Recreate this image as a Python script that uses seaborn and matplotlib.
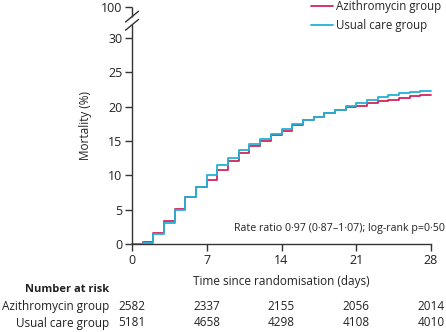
import matplotlib
matplotlib.use("Agg")
import matplotlib.pyplot as plt
import numpy as np
import pandas as pd
import seaborn as sns
from matplotlib.transforms import blended_transform_factory

# Cumulative mortality (%) by day since randomisation
days = list(range(0, 29))
azithro = [0, 0.3, 1.6, 3.4, 5.1, 6.8, 8.3, 9.3, 10.8, 12.1, 13.2, 14.3, 15.0,
           15.8, 16.4, 17.3, 18.05, 18.5, 19.1, 19.45, 19.9, 20.15, 20.5, 20.75,
           21.0, 21.3, 21.55, 21.75, 21.75]
usual = [0, 0.15, 1.5, 3.1, 4.95, 6.8, 8.3, 10.0, 11.5, 12.45, 13.65, 14.6, 15.3,
         16.0, 16.8, 17.4, 18.05, 18.5, 19.1, 19.55, 20.15, 20.5, 20.95, 21.35,
         21.7, 21.95, 22.1, 22.3, 22.3]

groups = ["Azithromycin group", "Usual care group"]
colors = ["#d4245a", "#22b2d6"]

# Number at risk
risk_days = [0, 7, 14, 21, 28]
azithro_n = [2582, 2337, 2155, 2056, 2014]
usual_n = [5181, 4658, 4298, 4108, 4010]

x_ticks = [0, 7, 14, 21, 28]
y_ticks = [0, 5, 10, 15, 20, 25, 30]
y_top = 34.5  # position standing in for 100% above the axis break

sns.set_style("ticks")
plt.rcParams["font.family"] = ["Open Sans", "DejaVu Sans"]
plt.rcParams["font.size"] = 8.5
ink = "#222222"
axis_col = "#333333"

df = pd.DataFrame({
    "day": days * 2,
    "mortality": azithro + usual,
    "group": [groups[0]] * len(days) + [groups[1]] * len(days),
})

W, H = 446, 332
fig = plt.figure(figsize=(W / 100, H / 100), dpi=100)
ax = fig.add_axes([132 / W, 1 - 244 / H, 299 / W, 237 / H])

sns.lineplot(data=df, x="day", y="mortality", hue="group", hue_order=groups,
             palette=colors, drawstyle="steps-post", linewidth=1.3,
             errorbar=None, ax=ax, clip_on=False)

ax.set_xlim(0, 28)
ax.set_ylim(0, y_top)
ax.set_xticks(x_ticks)
ax.set_yticks(y_ticks + [y_top])
ax.set_yticklabels([str(v) for v in y_ticks] + ["100"])
ax.tick_params(axis="both", direction="out", length=5, width=1.0,
               color=axis_col, labelcolor=ink, labelsize=9, pad=2)

for side in ("top", "right"):
    ax.spines[side].set_visible(False)
for side in ("left", "bottom"):
    ax.spines[side].set_color(axis_col)
    ax.spines[side].set_linewidth(1.0)

# Broken y axis between 30 and 100
lo_break, hi_break = 31.9, 33.1
ax.spines["left"].set_bounds(0, lo_break)
ax.plot([0, 0], [hi_break, y_top], color=axis_col, lw=1.0, clip_on=False,
        solid_capstyle="butt")
tr = blended_transform_factory(ax.transAxes, ax.transData)
dx = 6.5 / 299
for yc in (lo_break, hi_break):
    ax.plot([-dx, dx], [yc - 0.78, yc + 0.78], color=axis_col, lw=1.0,
            transform=tr, clip_on=False)

ax.set_xlabel("Time since randomisation (days)", fontsize=8.5, color=ink,
              va="center")
ax.xaxis.set_label_coords(0.5, -(281.7 - 244) / 237)
ax.set_ylabel("Mortality (%)", fontsize=8.5, color=ink, va="center")
ax.yaxis.set_label_coords(-(132 - 86) / 299, 0.5)

handles, labels = ax.get_legend_handles_labels()
ax.legend(handles, labels, loc="center left",
          bbox_to_anchor=(311 / W, 1 - 15.8 / H),
          bbox_transform=fig.transFigure, frameon=False, fontsize=8.3,
          handlelength=1.9, handletextpad=0.3, labelspacing=0.55,
          borderaxespad=0, borderpad=0.0)

fig.text(445 / W, 1 - 228 / H, "Rate ratio 0·97 (0·87–1·07); log-rank p=0·50",
         ha="right", va="center", fontsize=7.7, color=ink)

# Number at risk table
fig.text(109 / W, 1 - 290 / H, "Number at risk", ha="right", va="center",
         fontsize=8, fontweight="bold", color=ink)
rows = [(groups[0], azithro_n, 306.7), (groups[1], usual_n, 323.0)]
trn = blended_transform_factory(ax.transData, fig.transFigure)
for name, counts, ypx in rows:
    fig.text(109 / W, 1 - ypx / H, name, ha="right", va="center",
             fontsize=8.5, color=ink)
    for d, n in zip(risk_days, counts):
        ax.text(d, 1 - ypx / H, str(n), transform=trn, ha="center",
                va="center", fontsize=8.5, color=ink, clip_on=False)

fig.savefig("out.png", dpi=100)
